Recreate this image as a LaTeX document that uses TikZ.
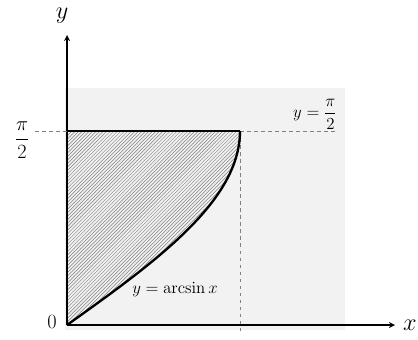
\documentclass[tikz,border=0pt]{standalone}
\usepackage{amsmath}
\usepackage{tikz}
\usetikzlibrary{arrows,patterns}
\definecolor{paper}{RGB}{242,242,242}

\begin{document}
\begin{tikzpicture}[x=0.03cm,y=-0.03cm,
  axis/.style={->,>=stealth,line width=1.3pt},
  bound/.style={line width=2pt},
  guide/.style={dashed,gray,line width=0.6pt},
  lbl/.style={inner sep=1pt,font=\Large}
]
\useasboundingbox (0,0) rectangle (418,340);
% background sheet
\fill[paper] (65,88) rectangle (345,330);
% points
\coordinate (O)    at (67,325);
\coordinate (xend) at (395,325);
\coordinate (yend) at (67,35);
\coordinate (top)  at (67,131);
\coordinate (P)    at (240,131);
\coordinate (Px)   at (240,332);
\coordinate (far)  at (338,131);
\coordinate (stub) at (35,131);
% hatched region
\fill[pattern=north east lines,pattern color=gray]
  (O) plot[domain=0:90,samples=40,smooth] ({67+173*sin(\x)},{325-2.1556*\x}) -- (top) -- cycle;
% axes
\draw[axis] (O) -- (xend);
\draw[axis] (O) -- (yend);
% guides
\draw[guide] (P) -- (Px);
\draw[guide] (P) -- (far);
\draw[guide] (stub) -- (top);
% bounding curves
\draw[bound] (top) -- (P);
\draw[bound] (O) plot[domain=0:90,samples=40,smooth] ({67+173*sin(\x)},{325-2.1556*\x});
% labels
\node[lbl,font=\huge]  (ylbl) at (62,16)  {$y$};
\node[lbl,font=\huge]  (xlbl) at (410,325) {$x$};
\node[lbl,font=\LARGE] (olbl) at (52,322) {$0$};
\node[lbl,font=\LARGE] (pi)   at (22,140) {$\dfrac{\pi}{2}$};
\node[lbl]             (line) at (315,114) {$y=\dfrac{\pi}{2}$};
\node[lbl]             (curv) at (175,290) {$y=\arcsin x$};
\end{tikzpicture}
\end{document}
